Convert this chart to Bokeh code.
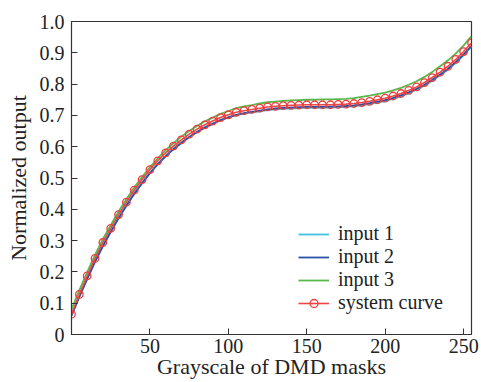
from bokeh.plotting import figure
from bokeh.models import FixedTicker, Range1d, Legend, LegendItem
from bokeh.embed import file_html
from bokeh.resources import INLINE

gray = list(range(0, 256, 5))

system_curve = [0.065, 0.128, 0.187, 0.243, 0.294, 0.339, 0.383, 0.423, 0.461, 0.495,
                0.527, 0.555, 0.580, 0.602, 0.622, 0.640, 0.656, 0.670, 0.682, 0.693,
                0.702, 0.710, 0.715, 0.719, 0.723, 0.727, 0.729, 0.731, 0.732, 0.733,
                0.734, 0.734, 0.734, 0.734, 0.735, 0.736, 0.738, 0.741, 0.745, 0.750,
                0.755, 0.762, 0.770, 0.780, 0.791, 0.805, 0.821, 0.838, 0.857, 0.879,
                0.904, 0.932]

input_3 = [0.080, 0.142, 0.199, 0.254, 0.305, 0.349, 0.393, 0.432, 0.470, 0.503,
           0.535, 0.563, 0.589, 0.611, 0.632, 0.650, 0.666, 0.681, 0.693, 0.705,
           0.714, 0.723, 0.729, 0.733, 0.738, 0.742, 0.744, 0.746, 0.748, 0.749,
           0.750, 0.750, 0.751, 0.751, 0.752, 0.753, 0.755, 0.759, 0.763, 0.768,
           0.773, 0.780, 0.788, 0.798, 0.809, 0.823, 0.839, 0.857, 0.876, 0.898,
           0.924, 0.953]

input_2 = [0.060, 0.120, 0.177, 0.232, 0.282, 0.327, 0.371, 0.411, 0.449, 0.483,
           0.515, 0.544, 0.569, 0.592, 0.612, 0.630, 0.647, 0.661, 0.673, 0.685,
           0.694, 0.702, 0.707, 0.711, 0.715, 0.719, 0.722, 0.724, 0.725, 0.726,
           0.727, 0.727, 0.727, 0.728, 0.729, 0.730, 0.732, 0.735, 0.739, 0.744,
           0.749, 0.756, 0.764, 0.774, 0.785, 0.798, 0.814, 0.831, 0.849, 0.871,
           0.895, 0.922]

input_1 = [0.062, 0.123, 0.180, 0.235, 0.285, 0.330, 0.374, 0.414, 0.452, 0.486,
           0.518, 0.546, 0.571, 0.594, 0.614, 0.632, 0.648, 0.662, 0.674, 0.685,
           0.694, 0.701, 0.706, 0.710, 0.713, 0.717, 0.719, 0.721, 0.722, 0.723,
           0.724, 0.724, 0.724, 0.725, 0.726, 0.727, 0.729, 0.732, 0.736, 0.741,
           0.746, 0.753, 0.761, 0.771, 0.782, 0.795, 0.811, 0.828, 0.846, 0.868,
           0.892, 0.920]

x_ticks = [50, 100, 150, 200, 250]
y_ticks = [0, 0.1, 0.2, 0.3, 0.4, 0.5, 0.6, 0.7, 0.8, 0.9, 1.0]
y_tick_labels = ["0", "0.1", "0.2", "0.3", "0.4", "0.5", "0.6", "0.7", "0.8", "0.9", "1.0"]
x_title = "Grayscale of DMD masks"
y_title = "Normalized output"

FONT = "Liberation Serif"

p = figure(width=481, height=382, output_backend="svg", toolbar_location=None,
           x_range=Range1d(0, 255), y_range=Range1d(0, 1.0),
           min_border_left=71, min_border_right=10, min_border_top=21, min_border_bottom=48)

p.xgrid.visible = False
p.ygrid.visible = False
p.outline_line_color = "#333333"
p.outline_line_width = 1.2
p.background_fill_color = "white"
p.border_fill_color = "white"

for ax in (p.xaxis[0], p.yaxis[0]):
    ax.major_tick_in = 6
    ax.major_tick_out = 0
    ax.minor_tick_line_color = None
    ax.axis_line_color = "#333333"
    ax.major_tick_line_color = "#333333"
    ax.major_label_text_font = FONT
    ax.major_label_text_font_size = "20px"
    ax.major_label_text_color = "#222222"
    ax.axis_label_text_font = FONT
    ax.axis_label_text_font_size = "22px"
    ax.axis_label_text_font_style = "normal"
    ax.axis_label_text_color = "#222222"

p.xaxis.ticker = FixedTicker(ticks=x_ticks)
p.yaxis.ticker = FixedTicker(ticks=y_ticks)
p.yaxis.major_label_overrides = {t: l for t, l in zip(y_ticks, y_tick_labels)}
p.xaxis.axis_label = x_title
p.yaxis.axis_label = y_title
p.xaxis.major_label_standoff = 4
p.yaxis.major_label_standoff = 7
p.xaxis.axis_label_standoff = -2
p.yaxis.axis_label_standoff = 6

r3 = p.line(gray, input_3, line_color="#58b84c", line_width=1.8)
r1 = p.line(gray, input_1, line_color="#3fc3dc", line_width=1.8)
r2 = p.line(gray, input_2, line_color="#2b4fa6", line_width=1.8)
rs_l = p.line(gray, system_curve, line_color="#f04545", line_width=1.6)
rs_m = p.scatter(gray, system_curve, marker="circle", size=7.5, fill_color=None,
                 line_color="#f03c3c", line_width=1.3)

legend = Legend(items=[
    LegendItem(label="input 1", renderers=[r1]),
    LegendItem(label="input 2", renderers=[r2]),
    LegendItem(label="input 3", renderers=[r3]),
    LegendItem(label="system curve", renderers=[rs_l, rs_m]),
], location=(227, 20))
legend.label_text_font = FONT
legend.label_text_font_size = "20px"
legend.label_text_color = "#222222"
legend.glyph_width = 31
legend.glyph_height = 20
legend.label_height = 20
legend.label_standoff = 9
legend.spacing = 0
legend.padding = 0
legend.margin = 0
legend.border_line_color = None
legend.background_fill_alpha = 0
p.add_layout(legend)

open("out.html", "w").write(file_html(p, INLINE))
